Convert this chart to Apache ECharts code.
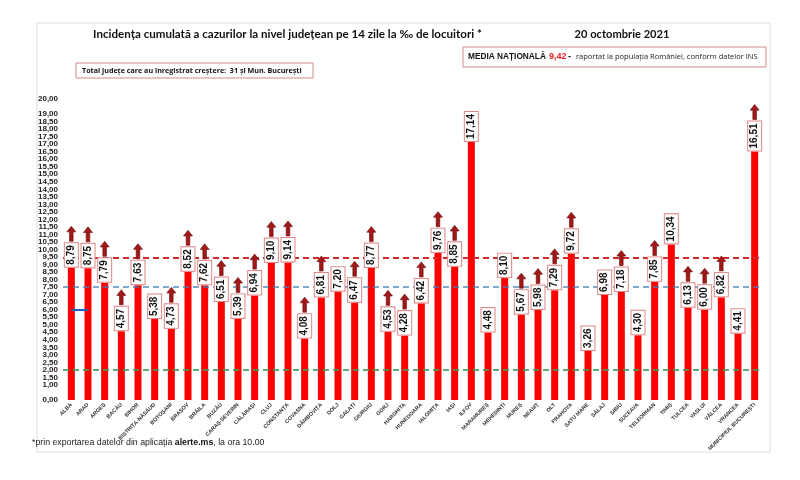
<!DOCTYPE html>
<html>
<head>
<meta charset="utf-8">
<script src="https://cdn.jsdelivr.net/npm/echarts@6/dist/echarts.min.js"></script>
<style>html,body{margin:0;padding:0;background:#fff}#c{width:800px;height:480px}</style>
</head>
<body>
<div id="c"></div>
<script>
const categories = ['ALBA','ARAD','ARGEȘ','BACĂU','BIHOR','BISTRIȚA-NĂSĂUD','BOTOȘANI','BRAȘOV','BRĂILA','BUZĂU','CARAȘ-SEVERIN','CĂLĂRAȘI','CLUJ','CONSTANȚA','COVASNA','DÂMBOVIȚA','DOLJ','GALAȚI','GIURGIU','GORJ','HARGHITA','HUNEDOARA','IALOMIȚA','IAȘI','ILFOV','MARAMUREȘ','MEHEDINȚI','MUREȘ','NEAMȚ','OLT','PRAHOVA','SATU MARE','SĂLAJ','SIBIU','SUCEAVA','TELEORMAN','TIMIȘ','TULCEA','VASLUI','VÂLCEA','VRANCEA','MUNICIPIUL BUCUREȘTI'];
const values = [8.79,8.75,7.79,4.57,7.63,5.38,4.73,8.52,7.62,6.51,5.39,6.94,9.10,9.14,4.08,6.81,7.20,6.47,8.77,4.53,4.28,6.42,9.76,8.85,17.14,4.48,8.10,5.67,5.98,7.29,9.72,3.26,6.98,7.18,4.30,7.85,10.34,6.13,6.00,6.82,4.41,16.51];
const increased = [1,1,1,1,1,0,1,1,1,1,1,1,1,1,1,1,0,1,1,1,1,1,1,1,0,0,0,1,1,1,1,0,0,1,0,1,0,1,1,1,0,1];
const nationalAverage = 9.42;
const blueLevel = 7.5;
const greenLevel = 2.0;
const blueMarkLevel = 6.0;
const yMin = 0, yMax = 20, yStep = 0.5;

const fmt = v => Number(v).toFixed(2).replace('.', ',');

const cvs = document.createElement('canvas').getContext('2d');
const LABEL_FONT = 'bold 10px "Liberation Sans"';
function textW(t, font) { cvs.font = font; return cvs.measureText(t).width; }
const LABEL_DIST = 1, PAD_L = 2, PAD_R = 2, ARROW_H = 15;

const arrowData = values.map((v, i) => {
  if (!increased[i]) return '-';
  const boxLen = textW(fmt(v), LABEL_FONT) + PAD_L + PAD_R + 2;
  return { value: v, symbolOffset: [0, -(LABEL_DIST + boxLen + ARROW_H / 2)] };
});

function fitSize(text, weight, family, target) {
  const w = textW(text, weight + ' 10px ' + family);
  return (10 * target / w).toFixed(2);
}

const titleText = 'Incidența cumulată a cazurilor la nivel județean pe 14 zile la ‰ de locuitori *';
const titleFam = 'Lato';
const titleSize = fitSize(titleText, 'bold', titleFam, 389);
const dateText = '20 octombrie 2021';
const dateSize = fitSize(dateText, 'bold', titleFam, 95);
const box1Text = 'Total județe care au înregistrat creștere:  31 și Mun. București';
const box1Size = fitSize(box1Text, 'bold', '"Open Sans"', 220);
const mediaLabel = 'MEDIA NAȚIONALĂ';
const mediaSize = fitSize(mediaLabel, 'bold', '"Liberation Sans"', 78);
const mediaNote = 'raportat la populația României, conform datelor INS';
const noteSize = fitSize(mediaNote, 'normal', '"Open Sans"', 182);
const footA = '*prin exportarea datelor din aplicația ', footB = 'alerte.ms', footC = ', la ora 10.00';
const footSize = fitSize(footA + footB + footC, 'normal', '"Liberation Sans"', 230);

const chart = echarts.init(document.getElementById('c'));
chart.setOption({
  animation: false,
  backgroundColor: '#fff',
  grid: { left: 63, right: 37, top: 99, bottom: 80, containLabel: false },
  xAxis: {
    type: 'category',
    data: categories,
    axisLine: { show: false },
    axisTick: { show: false },
    axisLabel: { interval: 0, rotate: 45, fontSize: 5.4, fontWeight: 'bold', color: '#333', margin: 4, fontFamily: 'Liberation Sans' }
  },
  yAxis: {
    type: 'value', min: yMin, max: yMax, interval: yStep,
    splitLine: { show: false },
    axisLine: { show: false }, axisTick: { show: false },
    axisLabel: { formatter: fmt, fontSize: 8, fontWeight: 'bold', color: '#222', margin: 5, fontFamily: 'Liberation Sans',
      showMinLabel: true, showMaxLabel: true, hideOverlap: false }
  },
  series: [
    {
      type: 'bar', data: values, barWidth: 7, z: 2,
      itemStyle: { color: '#ff0000' },
      markLine: {
        silent: true, symbol: 'none', z: 4,
        label: { show: false },
        data: [
          { yAxis: nationalAverage, lineStyle: { color: '#cf2a2a', type: [6, 4], width: 2 } },
          { yAxis: blueLevel, lineStyle: { color: '#3f7fb5', type: [6, 4], width: 1.5, opacity: 0.9 } },
          { yAxis: greenLevel, lineStyle: { color: '#3f9a63', type: [6, 4], width: 2, opacity: 0.85 } },
          [ { coord: [categories[0], blueMarkLevel], lineStyle: { color: '#1f5fbf', width: 2, type: 'solid' } },
            { coord: [categories[1], blueMarkLevel] } ]
        ]
      }
    },
    {
      type: 'bar', data: values, barWidth: 7, barGap: '-100%', z: 10, silent: true,
      itemStyle: { color: 'rgba(0,0,0,0)' },
      label: {
        show: true, position: 'top', distance: LABEL_DIST, rotate: 90,
        align: 'left', verticalAlign: 'middle',
        formatter: p => fmt(p.value),
        fontSize: 10, fontWeight: 'bold', fontFamily: 'Liberation Sans', color: '#111',
        backgroundColor: '#fff', borderColor: '#e08686', borderWidth: 1,
        padding: [1.5, PAD_R, 1.5, PAD_L]
      }
    },
    {
      type: 'scatter', data: arrowData, z: 11, silent: true,
      symbol: 'path://M3,16 L3,6 L0,6 L5,0 L10,6 L7,6 L7,16 Z',
      symbolSize: [9, ARROW_H],
      itemStyle: { color: '#a01818', borderColor: '#6e0c0c', borderWidth: 0.6, opacity: 1 }
    }
  ],
  graphic: [
    { type: 'rect', shape: { x: 37, y: 23, width: 733, height: 429 }, style: { fill: 'none', stroke: '#dedede', lineWidth: 1 }, z: -1 },
    { type: 'text', style: { text: titleText, x: 287.5, y: 34, textAlign: 'center', textVerticalAlign: 'middle', font: 'bold ' + titleSize + 'px ' + titleFam, fill: '#111' } },
    { type: 'text', style: { text: dateText, x: 622, y: 34, textAlign: 'center', textVerticalAlign: 'middle', font: 'bold ' + dateSize + 'px ' + titleFam, fill: '#111' } },
    { type: 'rect', shape: { x: 76, y: 63, width: 237, height: 15 }, style: { fill: '#fff', stroke: '#d58a8a', lineWidth: 1 } },
    { type: 'text', style: { text: box1Text, x: 82, y: 70.5, textAlign: 'left', textVerticalAlign: 'middle', font: 'bold ' + box1Size + 'px "Open Sans"', fill: '#111' } },
    { type: 'rect', shape: { x: 463, y: 47, width: 303, height: 20 }, style: { fill: '#fff', stroke: '#d58a8a', lineWidth: 1 } },
    { type: 'text', style: { text: mediaLabel, x: 468, y: 57, textAlign: 'left', textVerticalAlign: 'middle', font: 'bold ' + mediaSize + 'px "Liberation Sans"', fill: '#111' } },
    { type: 'text', style: { text: fmt(nationalAverage), x: 549, y: 57, textAlign: 'left', textVerticalAlign: 'middle', font: 'bold 9px "Liberation Sans"', fill: '#e02020' } },
    { type: 'text', style: { text: '-', x: 568, y: 57, textAlign: 'left', textVerticalAlign: 'middle', font: 'bold 9px "Liberation Sans"', fill: '#111' } },
    { type: 'text', style: { text: mediaNote, x: 576, y: 57, textAlign: 'left', textVerticalAlign: 'middle', font: noteSize + 'px "Open Sans"', fill: '#222' } },
    { type: 'text', style: {
        text: '{n|' + footA + '}{b|' + footB + '}{n|' + footC + '}',
        x: 32, y: 443, textAlign: 'left', textVerticalAlign: 'middle',
        rich: {
          n: { font: footSize + 'px "Liberation Sans"', fill: '#222' },
          b: { font: 'bold ' + footSize + 'px "Liberation Sans"', fill: '#111' }
        } } }
  ]
});
</script>
</body>
</html>
